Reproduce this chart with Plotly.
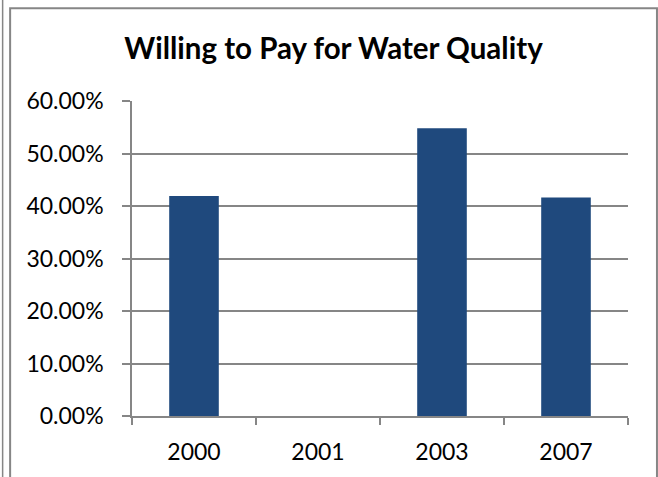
import plotly.graph_objects as go

categories = ["2000", "2001", "2003", "2007"]
willing_to_pay = [0.419, None, 0.548, 0.416]
y_ticks = [0.0, 0.1, 0.2, 0.3, 0.4, 0.5, 0.6]

W, H = 658, 477
L, R, T, B = 131.5, 30, 101, 58
pw = W - L - R
ph = H - T - B

def px_x(x):
    return (x - L) / pw

def px_y(y):
    return (H - B - y) / ph

fig = go.Figure(go.Bar(
    x=categories, y=willing_to_pay,
    marker=dict(color="#1F497D", line=dict(width=0)),
))

grey = "#868686"
lw = 1.5
fig.update_layout(
    width=W, height=H,
    margin=dict(l=L, r=R, t=T, b=B, pad=0),
    paper_bgcolor="white", plot_bgcolor="white",
    bargap=0.6,
    showlegend=False,
    title=dict(text="<b>Willing to Pay for Water Quality</b>",
               x=333.5 / W, xanchor="center", xref="container",
               y=1 - 49 / H, yanchor="middle", yref="container",
               font=dict(family="Lato", size=29.5, color="black")),
    font=dict(family="Lato", size=23, color="black"),
    xaxis=dict(type="category", showline=True, linecolor=grey, linewidth=lw,
               ticks="outside", tickson="boundaries", ticklen=7, tickcolor=grey,
               tickwidth=lw, showgrid=False, ticklabelstandoff=15,
               tickfont=dict(family="Lato", size=23, color="black")),
    yaxis=dict(range=[0, 0.6], tickvals=y_ticks, tickformat=".2%",
               showline=True, linecolor=grey, linewidth=lw,
               ticks="outside", ticklen=8, tickcolor=grey, tickwidth=lw,
               showgrid=True, gridcolor=grey, gridwidth=lw, zeroline=False,
               ticklabelstandoff=14,
               tickfont=dict(family="Lato", size=23, color="black")),
    shapes=[
        dict(type="rect", xref="paper", yref="paper",
             x0=px_x(9.5), x1=px_x(657), y0=px_y(7.3), y1=px_y(490),
             line=dict(color=grey, width=2), fillcolor="rgba(0,0,0,0)", layer="above"),
        dict(type="line", xref="paper", yref="paper",
             x0=px_x(2), x1=px_x(2), y0=px_y(-5), y1=px_y(490),
             line=dict(color=grey, width=1.5)),
    ],
)

fig.write_html("out.html", config={"displayModeBar": False},
               post_script="document.body.style.margin='0px';document.body.style.overflow='hidden';")
